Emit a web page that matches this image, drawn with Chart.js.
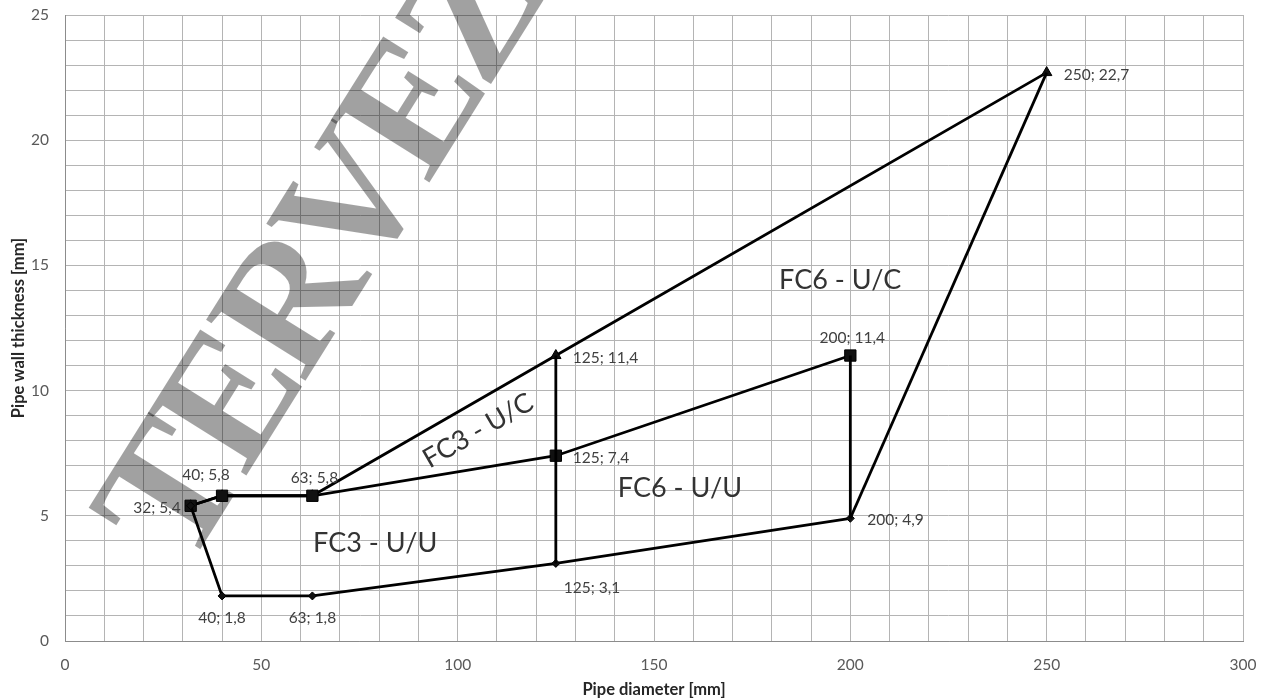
<!DOCTYPE html>
<html>
<head>
<meta charset="utf-8">
<script src="https://cdn.jsdelivr.net/npm/chart.js@4"></script>
<style>
  html, body { margin: 0; padding: 0; background: #fff; }
  #wrap { width: 1266px; height: 700px; position: relative; }
</style>
</head>
<body>
<div id="wrap"><canvas id="pipe-chart"></canvas></div>
<script>
// Boundary series (x = pipe diameter, y = wall thickness)
const upperX = [32, 40, 63, 125, 250];
const upperY = [5.4, 5.8, 5.8, 11.4, 22.7];
const midX = [32, 40, 63, 125, 200];
const midY = [5.4, 5.8, 5.8, 7.4, 11.4];
const lowerX = [32, 40, 63, 125, 200];
const lowerY = [5.4, 1.8, 1.8, 3.1, 4.9];

// Connecting segments
const link125X = [125, 125];
const link125Y = [11.4, 3.1];
const link200X = [200, 200];
const link200Y = [11.4, 4.9];
const link250X = [250, 200];
const link250Y = [22.7, 4.9];

// Point labels
const labelX = [32, 40, 63, 125, 250, 125, 200, 40, 63, 125, 200];
const labelY = [5.4, 5.8, 5.8, 11.4, 22.7, 7.4, 11.4, 1.8, 1.8, 3.1, 4.9];
const labelSide = ['left', 'aboveLeft', 'above', 'right', 'right', 'right', 'above', 'below', 'below', 'belowRight', 'right'];

// Region names
const regionNames = ['FC3 - U/U', 'FC3 - U/C', 'FC6 - U/U', 'FC6 - U/C'];
const regionX = [79, 105.2, 156.6, 197.4];
const regionY = [3.9, 8.4, 6.1, 14.4];
const regionAngle = [0, -30, 0, 0];

const watermarkText = 'TERVEZÉS';

const FONT = 'Lato, "DejaVu Sans", sans-serif';

const toPoints = (xs, ys) => xs.map((x, i) => ({ x: x, y: ys[i] }));

const lineSet = (xs, ys, style, radius) => ({
  data: toPoints(xs, ys),
  showLine: true,
  borderColor: '#000',
  borderWidth: 2.8,
  backgroundColor: '#000',
  pointStyle: style || 'circle',
  pointRadius: radius || 0,
  pointBorderColor: '#000',
  pointBackgroundColor: '#111',
  pointBorderWidth: 1,
  tension: 0
});

// watermark under the lines, over the grid
const watermark = {
  id: 'watermark',
  beforeDatasetsDraw(chart) {
    const ctx = chart.ctx;
    ctx.save();
    ctx.translate(186, 572);
    ctx.rotate(-58 * Math.PI / 180);
    ctx.font = 'bold 178px "Liberation Serif", serif';
    ctx.letterSpacing = '-8px';
    ctx.fillStyle = 'rgba(0,0,0,0.37)';
    ctx.textBaseline = 'alphabetic';
    ctx.fillText(watermarkText, 0, 0);
    ctx.restore();
  }
};

const textLayer = {
  id: 'textLayer',
  afterDatasetsDraw(chart) {
    const ctx = chart.ctx;
    const xs = chart.scales.x, ys = chart.scales.y;
    ctx.save();
    ctx.fillStyle = '#404040';
    ctx.font = '15.5px ' + FONT;
    labelX.forEach((x, i) => {
      const px = xs.getPixelForValue(x);
      const py = ys.getPixelForValue(labelY[i]);
      const txt = x + '; ' + String(labelY[i]).replace('.', ',');
      const side = labelSide[i];
      ctx.textBaseline = 'middle';
      if (side === 'left') {
        ctx.textAlign = 'right';
        ctx.fillText(txt, px - 10, py + 2);
      } else if (side === 'right') {
        ctx.textAlign = 'left';
        ctx.fillText(txt, px + 17, py + 2);
      } else if (side === 'above') {
        ctx.textAlign = 'center';
        ctx.fillText(txt, px + 2, py - 18);
      } else if (side === 'aboveLeft') {
        ctx.textAlign = 'center';
        ctx.fillText(txt, px - 16, py - 21);
      } else if (side === 'below') {
        ctx.textAlign = 'center';
        ctx.fillText(txt, px, py + 22);
      } else {
        ctx.textAlign = 'left';
        ctx.fillText(txt, px + 8, py + 25);
      }
    });
    ctx.fillStyle = '#333';
    ctx.font = '27px ' + FONT;
    ctx.textAlign = 'center';
    ctx.textBaseline = 'middle';
    regionNames.forEach((name, i) => {
      ctx.save();
      ctx.translate(xs.getPixelForValue(regionX[i]), ys.getPixelForValue(regionY[i]));
      ctx.rotate(regionAngle[i] * Math.PI / 180);
      ctx.fillText(name, 0, 0);
      ctx.restore();
    });
    ctx.restore();
  }
};

const ctx = document.getElementById('pipe-chart').getContext('2d');
new Chart(ctx, {
  type: 'scatter',
  data: {
    datasets: [
      lineSet(link125X, link125Y),
      lineSet(link200X, link200Y),
      lineSet(link250X, link250Y),
      lineSet(lowerX, lowerY, 'rectRot', 4),
      lineSet(midX, midY, 'rect', 8),
      lineSet(upperX, upperY, 'triangle', 6)
    ]
  },
  options: {
    responsive: true,
    maintainAspectRatio: false,
    animation: false,
    layout: {
      padding: { top: 15, right: 23, left: 0, bottom: 0 }
    },
    plugins: {
      legend: { display: false },
      tooltip: { enabled: false }
    },
    scales: {
      x: {
        type: 'linear',
        min: 0,
        max: 300,
        afterFit: s => {
          s.height = 59;
          s.paddingLeft = 0;
          s.paddingRight = 0;
        },
        ticks: {
          stepSize: 10,
          autoSkip: false,
          maxRotation: 0,
          padding: 15,
          color: '#595959',
          font: { family: FONT, size: 15.5 },
          callback: v => (v % 50 === 0 ? v : '')
        },
        grid: { color: '#b4b4b4', lineWidth: 1, drawTicks: false },
        border: { color: '#8c8c8c', width: 1 },
        title: {
          display: true,
          text: 'Pipe diameter [mm]',
          color: '#262626',
          font: { family: FONT, size: 16.5, weight: 'bold' },
          padding: { top: 0, bottom: 0 }
        }
      },
      y: {
        min: 0,
        max: 25,
        afterFit: s => {
          s.width = 65;
          s.paddingTop = 0;
          s.paddingBottom = 0;
        },
        ticks: {
          stepSize: 1,
          autoSkip: false,
          padding: 16,
          color: '#595959',
          font: { family: FONT, size: 15.5 },
          callback: v => (v % 5 === 0 ? v : '')
        },
        grid: { color: '#b4b4b4', lineWidth: 1, drawTicks: false },
        border: { color: '#8c8c8c', width: 1 },
        title: {
          display: true,
          text: 'Pipe wall thickness [mm]',
          color: '#262626',
          font: { family: FONT, size: 16.5, weight: 'bold' },
          padding: { top: 9, bottom: 0 }
        }
      }
    }
  },
  plugins: [watermark, textLayer]
});
</script>
</body>
</html>
